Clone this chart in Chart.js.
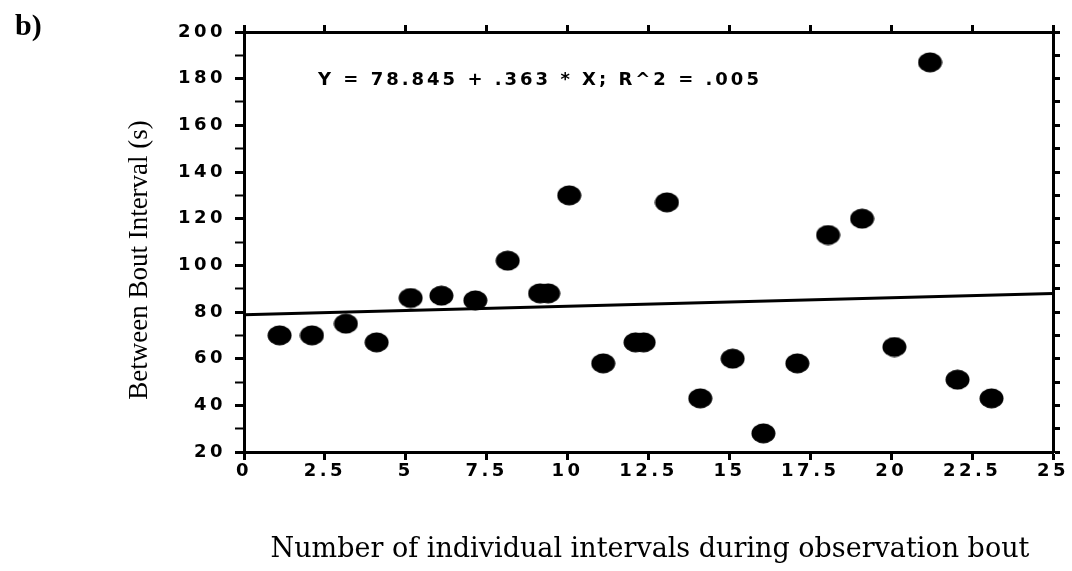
<!DOCTYPE html>
<html lang="en">
<head>
<meta charset="UTF-8">
<title>Between Bout Interval</title>
<script src="https://cdn.jsdelivr.net/npm/chart.js"></script>
<style>
  html, body { margin: 0; padding: 0; background: #fff; }
  canvas { display: block; }
</style>
</head>
<body>
<canvas id="grafico" width="1072" height="571"></canvas>

<script>
// intervals per observation bout vs. time until the next bout
const intervalCount = [1.1, 2.1, 3.15, 4.1, 5.15, 6.1, 7.15, 8.15, 9.15, 9.4, 10.05, 11.1, 12.1, 12.35, 13.07, 14.1, 15.1, 16.05, 17.1, 18.05, 19.1, 20.1, 21.2, 22.05, 23.1];
const boutInterval = [70, 70, 75, 67, 86, 87, 85, 102, 88, 88, 130, 58, 67, 67, 127, 43, 60, 28, 58, 113, 120, 65, 187, 51, 43];

// fitted line, as printed on the plot
const intercept = 78.845;
const slope = 0.363;
const rSquared = 0.005;

const xMin = 0, xMax = 25, xStep = 2.5;
const yMin = 20, yMax = 200, yStep = 10, yLabelStep = 20;

const equationText = 'Y = 78.845 + .363 * X; R^2 = .005';
const xTitle = 'Number of individual intervals during observation bout';
const yTitle = 'Between Bout Interval (s)';
const panelLabel = 'b)';

// filled ellipse used as point marker
function makeDot(w, h) {
  const c = document.createElement('canvas');
  c.width = w;
  c.height = h;
  const g = c.getContext('2d');
  g.fillStyle = '#000';
  g.beginPath();
  g.ellipse(w / 2, h / 2, w / 2 - 0.5, h / 2 - 0.5, 0, 0, Math.PI * 2);
  g.fill();
  return c;
}

const points = intervalCount.map((x, i) => ({ x: x, y: boutInterval[i] }));
const fitLine = [
  { x: xMin, y: intercept + slope * xMin },
  { x: xMax, y: intercept + slope * xMax }
];

const tickFont = { family: 'DejaVu Sans', size: 18, weight: 'bold' };

// wide tracking for tick labels, plain text for titles
const lettering = {
  id: 'lettering',
  beforeDraw(chart) {
    chart.ctx.letterSpacing = '3.5px';
  },
  afterDraw(chart) {
    const ctx = chart.ctx;
    ctx.save();
    ctx.fillStyle = '#000';

    ctx.letterSpacing = '3px';
    ctx.font = 'bold 18px "DejaVu Sans"';
    ctx.textAlign = 'left';
    ctx.textBaseline = 'middle';
    ctx.fillText(equationText, 318, 80);

    ctx.letterSpacing = '0px';
    ctx.font = 'bold 30px "Liberation Serif"';
    ctx.textBaseline = 'alphabetic';
    ctx.fillText(panelLabel, 15, 35);

    ctx.font = '27px "DejaVu Serif"';
    ctx.textAlign = 'center';
    ctx.fillText(xTitle, 650, 557);

    ctx.translate(147, 260);
    ctx.rotate(-Math.PI / 2);
    ctx.font = '27px "Liberation Serif"';
    ctx.fillText(yTitle, 0, 0);
    ctx.restore();
  }
};

new Chart(document.getElementById('grafico'), {
  type: 'scatter',
  data: {
    datasets: [
      {
        label: 'Between bout interval',
        data: points,
        pointStyle: makeDot(25, 21),
        pointRadius: 12,
        backgroundColor: '#000',
        borderColor: '#000'
      },
      {
        type: 'line',
        label: 'Fit',
        data: fitLine,
        borderColor: '#000',
        borderWidth: 3,
        pointRadius: 0,
        fill: false,
        tension: 0
      }
    ]
  },
  options: {
    responsive: false,
    animation: false,
    layout: { padding: 0 },
    plugins: {
      legend: { display: false },
      tooltip: { enabled: false }
    },
    scales: {
      x: {
        type: 'linear',
        position: 'bottom',
        min: xMin,
        max: xMax,
        afterFit: s => { s.height = 119; },
        border: { display: true, color: '#000', width: 3 },
        grid: { drawOnChartArea: false, drawTicks: true, tickLength: 8, tickWidth: 3, tickColor: '#000' },
        ticks: {
          stepSize: xStep,
          autoSkip: false,
          maxRotation: 0,
          padding: 1,
          color: '#000',
          font: tickFont,
          callback: v => v
        }
      },
      xTop: {
        type: 'linear',
        position: 'top',
        min: xMin,
        max: xMax,
        afterFit: s => { s.height = 32; },
        border: { display: true, color: '#000', width: 3 },
        grid: { drawOnChartArea: false, drawTicks: true, tickLength: 7, tickWidth: 3, tickColor: '#000' },
        ticks: { stepSize: xStep, display: false }
      },
      y: {
        type: 'linear',
        position: 'left',
        min: yMin,
        max: yMax,
        afterFit: s => { s.width = 244; },
        border: { display: true, color: '#000', width: 3 },
        grid: {
          drawOnChartArea: false,
          drawTicks: true,
          tickLength: 9,
          tickWidth: c => (c.tick && c.tick.value % yLabelStep === 0 ? 3 : 2),
          tickColor: '#000'
        },
        ticks: {
          stepSize: yStep,
          autoSkip: false,
          padding: 9,
          color: '#000',
          font: tickFont,
          callback: v => (v % yLabelStep === 0 ? v : '')
        }
      },
      yRight: {
        type: 'linear',
        position: 'right',
        min: yMin,
        max: yMax,
        afterFit: s => { s.width = 19; },
        border: { display: true, color: '#000', width: 3 },
        grid: { drawOnChartArea: false, drawTicks: true, tickLength: 7, tickWidth: 3, tickColor: '#000' },
        ticks: { stepSize: yStep, display: false }
      }
    }
  },
  plugins: [lettering]
});
</script>
</body>
</html>
